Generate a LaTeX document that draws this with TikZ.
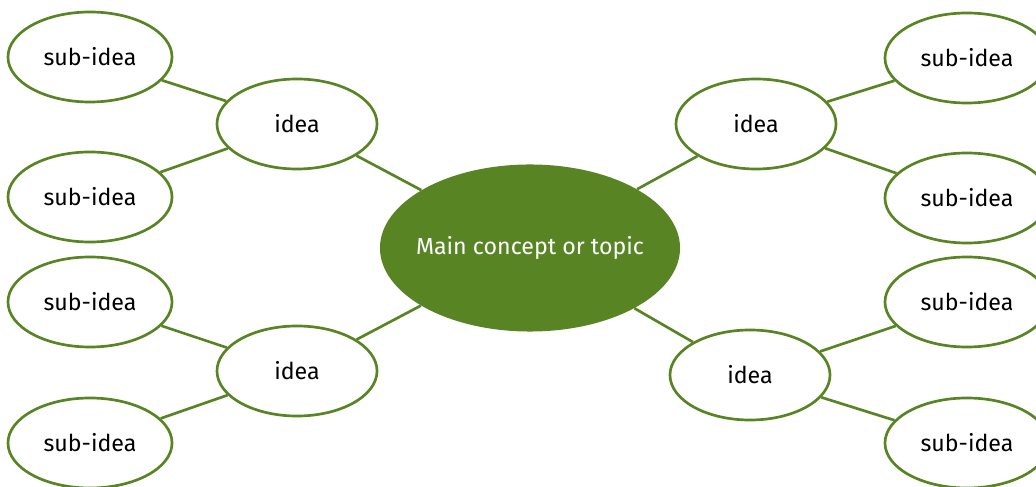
\documentclass[tikz,border=0pt]{standalone}
\usepackage{fontspec}
\setmainfont{Fira Sans}
\usepackage{tikz}
\usetikzlibrary{shapes.geometric}

\definecolor{leaf}{RGB}{88,132,36}
\tikzset{
  bubble/.style={ellipse, draw=leaf, line width=1.9pt, fill=white, inner sep=0pt, font=\fontsize{16.5}{20}\selectfont},
  idea/.style={bubble, minimum width=4cm, minimum height=2.25cm},
  subidea/.style={bubble, minimum width=4.1cm, minimum height=2.25cm},
  link/.style={draw=leaf, line width=1.9pt}
}

\begin{document}
\begin{tikzpicture}[x=0.025cm, y=0.025cm]
  \useasboundingbox (0, 0) rectangle (1036, 486);

  \node[ellipse, fill=leaf, text=white, inner sep=0pt, minimum width=7.5cm, minimum height=4.175cm,
        font=\fontsize{16.5}{20}\selectfont] at (530, 238) (main) {\makebox[0pt]{Main concept or topic}};

  \node[idea] at (297, 362) (ul) {idea};
  \node[idea] at (297, 115) (ll) {idea};
  \node[idea] at (756, 362) (ur) {idea};
  \node[idea] at (750, 111) (lr) {idea};

  \node[subidea] at (90, 429) (ul1) {sub-idea};
  \node[subidea] at (90, 289) (ul2) {sub-idea};
  \node[subidea] at (90, 184) (ll1) {sub-idea};
  \node[subidea] at (90, 43) (ll2) {sub-idea};
  \node[subidea] at (967, 428) (ur1) {sub-idea};
  \node[subidea] at (967, 288) (ur2) {sub-idea};
  \node[subidea] at (967, 184) (lr1) {sub-idea};
  \node[subidea] at (967, 43) (lr2) {sub-idea};

  \foreach \i in {ul, ll, ur, lr} {
    \draw[link] (main) -- (\i);
    \draw[link] (\i) -- (\i1);
    \draw[link] (\i) -- (\i2);
  }
\end{tikzpicture}
\end{document}
